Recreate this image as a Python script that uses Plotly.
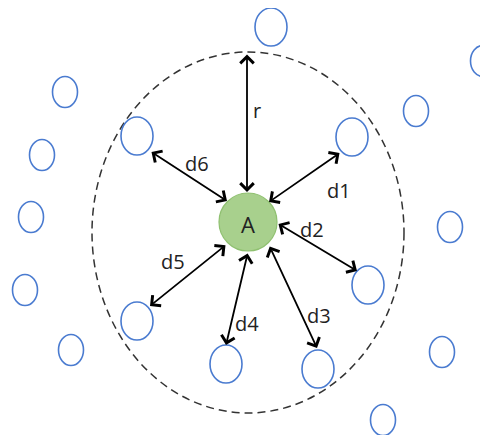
import plotly.graph_objects as go

# Node centres (pixel-like diagram coordinates, y downward)
node_x = [271, 483, 65, 416, 137, 352, 42, 31, 450, 25, 368, 137, 442, 71, 226, 318, 383]
node_y = [27, 61, 92, 111, 136, 137, 155, 217, 227, 290, 285, 321, 352, 350, 364, 369, 420]
node_big = [1, 0, 0, 0, 1, 1, 0, 0, 0, 0, 1, 1, 0, 0, 1, 1, 0]

# Centre node A
center_x, center_y, center_label = 248, 222, "A"

# Range circle
range_cx, range_cy, range_rx, range_ry = 248, 232.5, 156, 180.5

# Double-headed arrows: (x_start, y_start, x_end, y_end)
arrow_names = ["r", "d1", "d2", "d3", "d4", "d5", "d6"]
arrow_x0 = [247, 341, 277, 269, 248, 227, 150]
arrow_y0 = [53, 152, 223, 245, 252, 244, 151]
arrow_x1 = [247, 269, 357, 317, 226, 150, 227]
arrow_y1 = [192, 202, 271, 348, 345, 306, 201]

# Label positions
label_x = [257, 339, 312, 319, 247, 173, 197]
label_y = [110, 190, 229, 315, 323, 261, 163]

W, H = 488, 435
OFF = 8  # page body margin
fig = go.Figure()
fig.add_trace(go.Scatter(x=[OFF, W + OFF], y=[OFF, H + OFF], mode="markers",
                         marker=dict(opacity=0), hoverinfo="skip", showlegend=False))

shapes = []
# dashed range ellipse
shapes.append(dict(type="circle", xref="x", yref="y",
                   x0=range_cx - range_rx, x1=range_cx + range_rx,
                   y0=range_cy - range_ry, y1=range_cy + range_ry,
                   line=dict(color="#333333", width=1.5, dash="8px,5px")))
for x, y, b in zip(node_x, node_y, node_big):
    rx, ry = (16, 19) if b else (12.5, 15.5)
    shapes.append(dict(type="circle", xref="x", yref="y",
                       x0=x - rx, x1=x + rx, y0=y - ry, y1=y + ry,
                       line=dict(color="#4a7bd0", width=1.6), fillcolor="rgba(0,0,0,0)"))
# centre node
shapes.append(dict(type="circle", xref="x", yref="y",
                   x0=center_x - 29, x1=center_x + 29, y0=center_y - 29, y1=center_y + 29,
                   line=dict(color="#8fc070", width=1.2), fillcolor="#a8d08d"))

annotations = []
for x0, y0, x1, y1 in zip(arrow_x0, arrow_y0, arrow_x1, arrow_y1):
    annotations.append(dict(x=x1, y=y1, ax=x0, ay=y0, xref="x", yref="y",
                            axref="x", ayref="y", text="", showarrow=True,
                            arrowhead=4, startarrowhead=4, arrowside="end+start",
                            arrowsize=1.45, startarrowsize=1.45, arrowwidth=1.8,
                            arrowcolor="#000000", standoff=0, startstandoff=0))
for name, x, y in zip(arrow_names, label_x, label_y):
    annotations.append(dict(x=x, y=y, xref="x", yref="y", text=name, showarrow=False,
                            font=dict(family="Open Sans", size=20, color="#222222")))
annotations.append(dict(x=center_x, y=center_y + 2, xref="x", yref="y", text=center_label,
                        showarrow=False, font=dict(family="Open Sans", size=22, color="#222222")))

fig.update_layout(width=W, height=H, margin=dict(l=0, r=0, t=0, b=0),
                  paper_bgcolor="white", plot_bgcolor="white",
                  xaxis=dict(range=[OFF, W + OFF], visible=False, fixedrange=True),
                  yaxis=dict(range=[H + OFF, OFF], visible=False, fixedrange=True),
                  shapes=shapes, annotations=annotations, showlegend=False)
fig.write_html("out.html")
